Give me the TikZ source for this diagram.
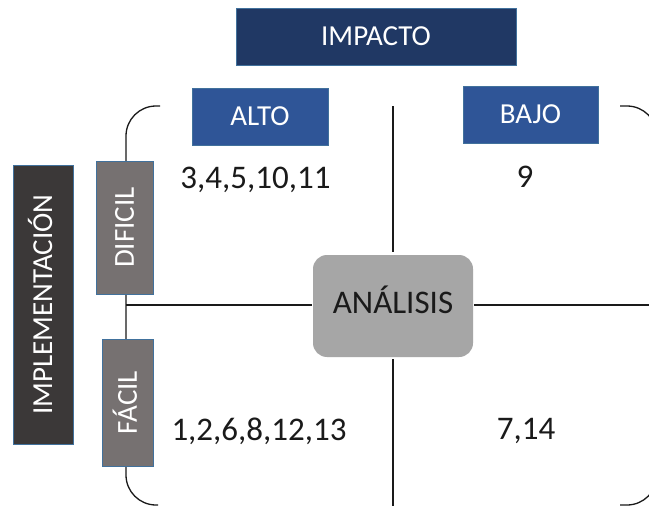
\documentclass[tikz,border=0pt]{standalone}
\usepackage{fontspec}
\setmainfont{Carlito}

\definecolor{navy}{HTML}{203864}
\definecolor{midblue}{HTML}{2F5597}
\definecolor{edgeblue}{HTML}{41719C}
\definecolor{warmgray}{HTML}{767171}
\definecolor{charcoal}{HTML}{3B3838}
\definecolor{lightgray}{HTML}{A6A6A6}
\definecolor{ink}{HTML}{1A1A1A}

\tikzset{
  tag/.style={draw=edgeblue, line width=0.8pt, text=white,
    font=\fontsize{29}{29}\selectfont, inner sep=0pt,
    text height=18.5pt, text depth=0pt, align=center},
  num/.style={text=ink, font=\fontsize{33}{33}\selectfont, inner sep=0pt,
    text height=21pt, text depth=0pt},
  rule/.style={draw=ink, line width=1.3pt},
}

\begin{document}
\begin{tikzpicture}[x=1pt, y=-1pt]
\path[use as bounding box, clip] (0,0) rectangle (649,506);
\fill[white] (0,0) rectangle (649,506);

% corner brackets of the matrix
\draw[rule, rounded corners=30pt] (160,106) -- (126,106) -- (126,505) -- (158,505);
\draw[rule, rounded corners=30pt] (620,106) -- (657,106) -- (657,505) -- (620,505);

% headers
\node[tag, fill=navy, minimum width=280pt, minimum height=57pt] (impacto) at (376,36.5) {IMPACTO};
\node[tag, fill=midblue, minimum width=136pt, minimum height=57pt] (alto) at (260,116.5) {ALTO};
\node[tag, fill=midblue, minimum width=135pt, minimum height=57pt] (bajo) at (530.5,114.5) {BAJO};

\node[tag, fill=charcoal, rotate=90, minimum width=279pt, minimum height=60pt] (impl) at (43,304.5) {IMPLEMENTACIÓN};
\node[tag, fill=warmgray, rotate=90, minimum width=133pt, minimum height=57pt] (dificil) at (124.5,227.5) {DIFICIL};
\node[tag, fill=warmgray, rotate=90, minimum width=127pt, minimum height=51pt] (facil) at (127.5,402.5) {FÁCIL};

% centre
\node[fill=lightgray, rounded corners=14pt, minimum width=160pt, minimum height=102pt,
  inner sep=0pt, text=ink, font=\fontsize{33}{33}\selectfont,
  text height=21.3pt, text depth=6pt] (analisis) at (393,306) {ANÁLISIS};

% quadrant contents
\node[num] (q1) at (255.5,178) {3,4,5,10,11};
\node[num] (q2) at (525,177) {9};
\node[num] (q3) at (259,430) {1,2,6,8,12,13};
\node[num] (q4) at (526,429) {7,14};

% axes
\coordinate (vtop) at (393,106);
\coordinate (vbot) at (393,510);
\coordinate (hl) at (126,305);
\coordinate (hr) at (655,305);
\draw[rule] (vtop) -- ([yshift=3pt]analisis.north);
\draw[rule] ([yshift=-2pt]analisis.south) -- (vbot);
\draw[rule] (hl) -- ([xshift=-1pt]analisis.west |- hl);
\draw[rule] ([xshift=1pt]analisis.east |- hr) -- (hr);
\end{tikzpicture}
\end{document}
